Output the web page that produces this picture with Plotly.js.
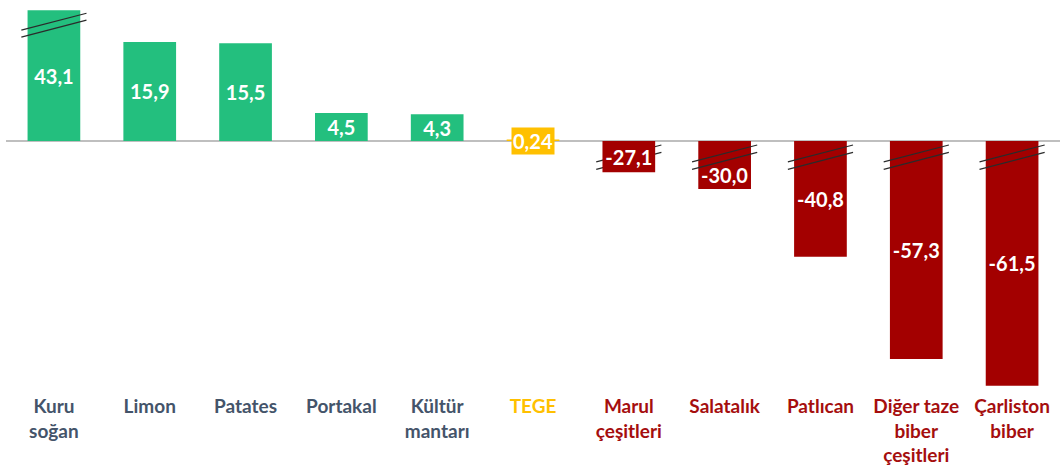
<!DOCTYPE html>
<html><head><meta charset="utf-8">
<script src="https://cdn.plot.ly/plotly-3.0.1.min.js"></script>
<style>html,body{margin:0;padding:0;background:#fff}#chart{width:1060px;height:468px}</style>
</head><body><div id="chart"></div>
<script>
// categories (x) and their tick labels
const categories = ['Kuru soğan','Limon','Patates','Portakal','Kültür mantarı','TEGE','Marul çeşitleri','Salatalık','Patlıcan','Diğer taze biber çeşitleri','Çarliston biber'];
const tickLabels = ['Kuru<br>soğan','Limon','Patates','Portakal','Kültür<br>mantarı','TEGE','Marul<br>çeşitleri','Salatalık','Patlıcan','Diğer taze<br>biber<br>çeşitleri','Çarliston<br>biber'];
// real values (shown as labels)
const values = [43.1, 15.9, 15.5, 4.5, 4.3, 0.24, -27.1, -30.0, -40.8, -57.3, -61.5];
// lengths as drawn in the picture (broken axis: long bars are truncated)
const shownLengths = [21.0, 15.9, 15.7, 4.5, 4.3, 0.24, -5.0, -7.7, -18.6, -35.0, -39.3];
// bars drawn with a break mark
const brokenBars = [true, false, false, false, false, false, true, true, true, true, true];
const averageCategory = 'TEGE';

const GREEN = '#23BF7E', RED = '#A30000', YELLOW = '#FFC000', SLATE = '#44546A';
const barColor = categories.map((c, i) => c === averageCategory ? YELLOW : (values[i] >= 0 ? GREEN : RED));
const labelColor = categories.map((c, i) => c === averageCategory ? YELLOW : (values[i] >= 0 ? SLATE : '#A50E0E'));
const fmt = v => v.toFixed(Math.abs(v) < 1 ? 2 : 1).replace('.', ',');

const FONT = 'Lato, "Open Sans", sans-serif';
// labels placed by bar text except the average (boxed) and Salatalık (shifted below the break)
const specialLabel = ['TEGE', 'Salatalık'];
const barText = categories.map((c, i) => specialLabel.includes(c) ? '' : fmt(values[i]));

const trace = {
  type: 'bar', x: categories, y: shownLengths,
  marker: {color: barColor, line: {width: 0}},
  width: 0.55,
  text: barText, textposition: 'inside', insidetextanchor: 'middle',
  textangle: 0, constraintext: 'none',
  textfont: {family: FONT, size: 20, color: '#ffffff', weight: 'bold'},
  hoverinfo: 'skip', cliponaxis: false
};

const yTop = 22.63, yBottom = -39.97;
const shapes = [];
brokenBars.forEach((b, i) => {
  if (!b) return;
  const centers = shownLengths[i] > 0 ? [shownLengths[i] - 1.85, shownLengths[i] - 2.97] : [-2.0, -3.2];
  centers.forEach(yc => shapes.push({
    type: 'line', xref: 'x', yref: 'y',
    x0: i - 0.34, x1: i + 0.34, y0: yc - 1.36, y1: yc + 1.36,
    line: {color: '#2b2b2b', width: 1.2},
    layer: categories[i] === 'Marul çeşitleri' ? 'below' : 'above'
  }));
});

const annotations = [];
categories.forEach((c, i) => {
  if (c === averageCategory) {
    annotations.push({x: i, y: 0, xref: 'x', yref: 'y', text: '<b>' + fmt(values[i]) + '</b>',
      showarrow: false, bgcolor: YELLOW, borderpad: 1, yanchor: 'middle',
      font: {family: FONT, size: 20, color: '#ffffff'}});
  } else if (specialLabel.includes(c)) {
    annotations.push({x: i, y: shownLengths[i], xref: 'x', yref: 'y', text: '<b>' + fmt(values[i]) + '</b>',
      showarrow: false, yanchor: 'bottom', yshift: 0,
      font: {family: FONT, size: 20, color: '#ffffff'}});
  }
});

const layout = {
  width: 1060, height: 468,
  margin: {l: 6, r: 0, t: 0, b: 78},
  paper_bgcolor: '#ffffff', plot_bgcolor: '#ffffff',
  showlegend: false,
  xaxis: {
    type: 'category', tickmode: 'array', tickvals: categories,
    ticktext: tickLabels.map((t, i) => '<span style="color:' + labelColor[i] + '"><b>' + t + '</b></span>'),
    tickfont: {family: FONT, size: 19, color: SLATE},
    showgrid: false, zeroline: false, showline: false, ticks: '', ticklabelstandoff: 3,
    fixedrange: true
  },
  yaxis: {
    range: [yBottom, yTop], showgrid: false, showticklabels: false, ticks: '',
    zeroline: true, zerolinecolor: '#BFBFBF', zerolinewidth: 1.5, showline: false, fixedrange: true
  },
  shapes: shapes, annotations: annotations,
  font: {family: FONT}
};

Plotly.newPlot('chart', [trace], layout, {displayModeBar: false, staticPlot: true});
</script></body></html>
